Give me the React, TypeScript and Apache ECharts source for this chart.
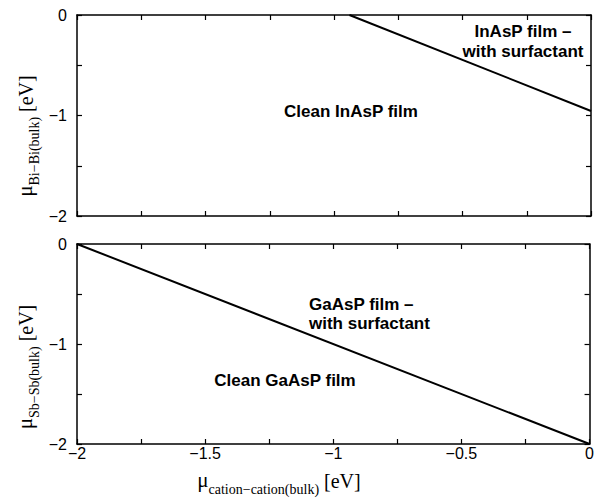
import React, { useEffect, useRef } from "react";
import * as echarts from "echarts";

// Data
const axisMin = -2;
const axisMax = 0;
const topBoundary: [number, number][] = [[-0.94, 0], [0, -0.955]];
const bottomBoundary: [number, number][] = [[-2, 0], [0, -2]];
const topLabels = ["Clean InAsP film", "InAsP film –", "with surfactant"];
const bottomLabels = ["Clean GaAsP film", "GaAsP film –", "with surfactant"];
const yNames = ["Bi−Bi(bulk)", "Sb−Sb(bulk)"];
const xName = "cation−cation(bulk)";

const SANS = "'Liberation Sans', Arial, Helvetica, sans-serif";
const SERIF = "'Liberation Serif', 'Times New Roman', serif";

const fmt = (v: number) => (v < 0 ? "−" + String(Math.abs(v)) : String(v));
const near = (a: number, step: number) => Math.abs(a / step - Math.round(a / step)) < 1e-6;

const richName = {
  mu: { fontFamily: SERIF, fontSize: 21, fill: "#000", padding: [0, 0, 6, 0], verticalAlign: "bottom" },
  sub: { fontFamily: SERIF, fontSize: 14, fill: "#000", verticalAlign: "bottom" },
  ev: { fontFamily: SERIF, fontSize: 20, fill: "#000", padding: [0, 0, 6, 0], verticalAlign: "bottom" },
};

export default function App() {
  const ref = useRef<HTMLDivElement>(null);
  useEffect(() => {
    if (!ref.current) return;
    const chart = echarts.init(ref.current, undefined, { renderer: "svg" });
    const axisLine = { show: true, onZero: false, lineStyle: { color: "#000", width: 1.5 } };
    const tick = { show: true, inside: true, length: 5, lineStyle: { color: "#000", width: 1.2 } };
    const grids = [
      { left: 77, right: 6, top: 15, height: 201 },
      { left: 77, right: 6, top: 244, height: 200 },
    ];
    const xAxes: any[] = [];
    const yAxes: any[] = [];
    [0, 1].forEach((g) => {
      ["bottom", "top"].forEach((pos) => {
        const showLabel = g === 1 && pos === "bottom";
        xAxes.push({
          type: "value", gridIndex: g, position: pos, min: axisMin, max: axisMax, interval: 0.25,
          axisLine, axisTick: tick, splitLine: { show: false },
          axisLabel: {
            show: showLabel, margin: 1, color: "#000", fontFamily: SANS, fontSize: 16,
            formatter: (v: number) => (near(v, 0.5) ? fmt(v) : ""),
          },
        });
      });
      ["left", "right"].forEach((pos) => {
        yAxes.push({
          type: "value", gridIndex: g, position: pos, min: axisMin, max: axisMax, interval: 0.5,
          axisLine, axisTick: tick, splitLine: { show: false },
          axisLabel: {
            show: pos === "left", margin: 10, color: "#000", fontFamily: SANS, fontSize: 16,
            formatter: (v: number) => (near(v, 1) ? fmt(v) : ""),
          },
        });
      });
    });
    const boldText = (text: string, x: number, y: number, align: string) => ({
      type: "text", x, y,
      style: { text, fill: "#000", font: `bold 17px ${SANS}`, align, verticalAlign: "middle" },
    });
    const yName = (sub: string, x: number, y: number) => ({
      type: "text", x, y, rotation: Math.PI / 2,
      style: { text: `{mu|μ}{sub|${sub}}{ev| [eV]}`, rich: richName, align: "center", verticalAlign: "middle" },
    });
    chart.setOption({
      animation: false,
      grid: grids,
      xAxis: xAxes,
      yAxis: yAxes,
      series: [
        { type: "line", xAxisIndex: 0, yAxisIndex: 0, data: topBoundary, showSymbol: false, lineStyle: { color: "#000", width: 2 } },
        { type: "line", xAxisIndex: 2, yAxisIndex: 2, data: bottomBoundary, showSymbol: false, lineStyle: { color: "#000", width: 2 } },
      ],
      graphic: [
        boldText(topLabels[0], 351, 111, "center"),
        boldText(topLabels[1], 523, 31, "center"),
        boldText(topLabels[2], 523, 51, "center"),
        boldText(bottomLabels[0], 285, 380, "center"),
        boldText(bottomLabels[1], 309, 304, "left"),
        boldText(bottomLabels[2], 309, 323, "left"),
        yName(yNames[0], 28, 136),
        yName(yNames[1], 28, 367),
        {
          type: "text", x: 279, y: 483,
          style: { text: `{mu|μ}{sub|${xName}}{ev| [eV]}`, rich: richName, align: "center", verticalAlign: "middle" },
        },
      ],
    });
    return () => chart.dispose();
  }, []);
  return <div ref={ref} style={{ width: 597, height: 498, position: "absolute", left: 0, top: 0 }} />;
}
